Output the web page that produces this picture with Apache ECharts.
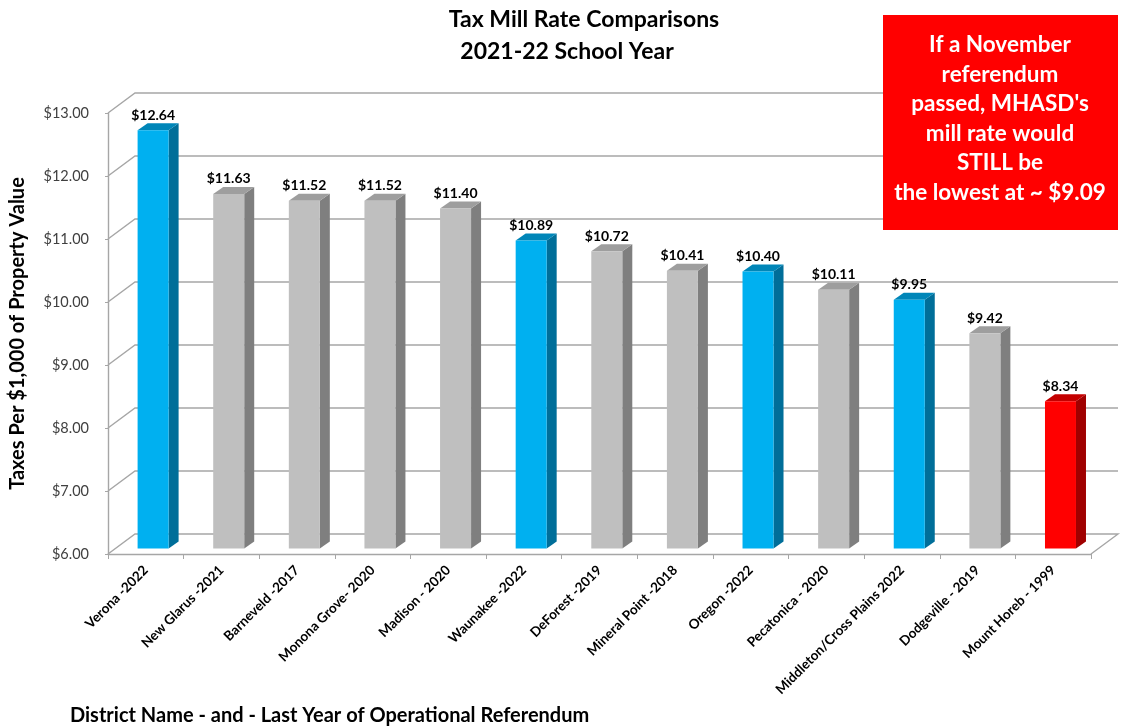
<!DOCTYPE html>
<html><head><meta charset="utf-8">
<script src="https://cdn.jsdelivr.net/npm/echarts/dist/echarts.min.js"></script>
<style>html,body{margin:0;padding:0;background:#fff}#c{width:1121px;height:726px}</style>
</head><body><div id="c"></div>
<script>
const categories = ['Verona -2022','New Glarus -2021','Barneveld -2017','Monona Grove- 2020','Madison - 2020','Waunakee -2022','DeForest -2019','Mineral Point -2018','Oregon -2022','Pecatonica - 2020','Middleton/Cross Plains 2022','Dodgeville - 2019','Mount Horeb - 1999'];
const values = [12.64, 11.63, 11.52, 11.52, 11.40, 10.89, 10.72, 10.41, 10.40, 10.11, 9.95, 9.42, 8.34];
const groups = ['b','g','g','g','g','b','g','g','b','g','b','g','r'];
const yTicks = [6, 7, 8, 9, 10, 11, 12, 13];
const titleLine1 = 'Tax Mill Rate Comparisons';
const titleLine2 = '2021-22 School Year';
const noteLines = ['If a November', 'referendum', "passed, MHASD's", 'mill rate would', 'STILL be', 'the lowest at ~ $9.09'];
const yAxisTitle = 'Taxes Per $1,000 of Property Value';
const xAxisTitle = 'District Name - and - Last Year of Operational Referendum';

const palette = {
  b: {front: '#00B0F0', side: '#006E99', top: '#0086B8'},
  g: {front: '#BFBFBF', side: '#7F7F7F', top: '#9E9E9E'},
  r: {front: '#FF0000', side: '#A00000', top: '#C40000'}
};
const FONT = 'Lato, "Open Sans", sans-serif';
const DX = 27, DY = -20;      // floor depth offset
const BAR_F = 0.27;           // depth fraction of bar front face
const BAR_DX = 10, BAR_DY = -7;
const BAR_W = 31;
const GRID_COLOR = '#A6A6A6';

const chart = echarts.init(document.getElementById('c'), null, {renderer: 'canvas'});

function renderGrid(params, api) {
  const cs = params.coordSys;
  const v = api.value(1);
  const y = api.coord([0, v])[1];
  const pts = [[cs.x, y], [cs.x + DX, y + DY], [cs.x + cs.width + DX, y + DY]];
  if (v === yTicks[0]) pts.push([cs.x + cs.width, y]);
  return {type: 'polyline', shape: {points: pts}, style: {stroke: GRID_COLOR, lineWidth: 1.4, fill: null}};
}

function renderBar(params, api) {
  const i = api.value(0), v = api.value(1);
  const p = api.coord([i, v]);
  const b = api.coord([i, yTicks[0]]);
  const cx = p[0] + BAR_F * DX;
  const x0 = cx - BAR_W / 2, x1 = cx + BAR_W / 2;
  const top = p[1] + BAR_F * DY, bot = b[1] + BAR_F * DY;
  const c = palette[groups[i]];
  return {type: 'group', children: [
    {type: 'polygon', shape: {points: [[x1, top], [x1 + BAR_DX, top + BAR_DY], [x1 + BAR_DX, bot + BAR_DY], [x1, bot]]}, style: {fill: c.side}},
    {type: 'polygon', shape: {points: [[x0, top], [x1, top], [x1 + BAR_DX, top + BAR_DY], [x0 + BAR_DX, top + BAR_DY]]}, style: {fill: c.top}},
    {type: 'rect', shape: {x: x0, y: top, width: BAR_W, height: bot - top}, style: {fill: c.front}},
    {type: 'text', style: {text: '$' + v.toFixed(2), x: cx, y: top - 15, align: 'center', verticalAlign: 'middle',
      fill: '#000', fontSize: 14, fontWeight: 'bold', fontFamily: FONT}}
  ]};
}

chart.setOption({
  animation: false,
  backgroundColor: '#fff',
  grid: {left: 107, right: 30, top: 113, bottom: 172},
  xAxis: {
    type: 'category', data: categories, boundaryGap: true,
    axisLine: {show: true, lineStyle: {color: GRID_COLOR, width: 1.4}},
    axisTick: {show: true, interval: 0, length: 5, lineStyle: {color: GRID_COLOR}},
    axisLabel: {interval: 0, rotate: 45, margin: 14, color: '#000', fontSize: 13.5, fontWeight: 'bold', fontFamily: FONT}
  },
  yAxis: {
    type: 'value', min: 6, max: 13, interval: 1,
    name: yAxisTitle, nameLocation: 'middle', nameGap: 80,
    nameTextStyle: {fontSize: 20, fontWeight: 'bold', color: '#000', fontFamily: FONT},
    axisLine: {show: true, lineStyle: {color: GRID_COLOR, width: 1.4}},
    axisTick: {show: true, length: 3, lineStyle: {color: GRID_COLOR}},
    splitLine: {show: false},
    axisLabel: {margin: 19, color: '#404040', fontSize: 14.5, fontFamily: FONT, formatter: v => '$' + v.toFixed(2)}
  },
  series: [
    {type: 'custom', clip: false, z: 1, data: yTicks.map(v => [0, v]), encode: {x: 0, y: 1}, renderItem: renderGrid, silent: true},
    {type: 'custom', clip: false, z: 2, data: values.map((v, i) => [i, v]), encode: {x: 0, y: 1}, renderItem: renderBar}
  ],
  graphic: [
    {type: 'text', x: 584, y: 20, style: {text: titleLine1, fill: '#000', fontSize: 23, fontWeight: 'bold', fontFamily: FONT, align: 'center', verticalAlign: 'middle'}},
    {type: 'text', x: 567, y: 52, style: {text: titleLine2, fill: '#000', fontSize: 23, fontWeight: 'bold', fontFamily: FONT, align: 'center', verticalAlign: 'middle'}},
    {type: 'rect', shape: {x: 883, y: 15, width: 235, height: 215}, style: {fill: '#FF0000'}, z: 10},
    {type: 'text', x: 1000, y: 30, z: 11, style: {text: noteLines.join('\n'), fill: '#fff', fontSize: 22.5, fontWeight: 'bold', fontFamily: FONT, lineHeight: 29.5, align: 'center', verticalAlign: 'top'}},
    {type: 'text', x: 70, y: 716, style: {text: xAxisTitle, fill: '#000', fontSize: 20, fontWeight: 'bold', fontFamily: FONT, verticalAlign: 'middle'}}
  ]
});
</script>
</body></html>
